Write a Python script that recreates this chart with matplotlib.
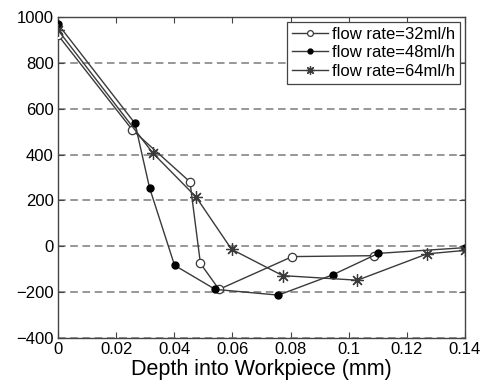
import matplotlib

matplotlib.use("Agg")
import matplotlib.pyplot as plt

plt.rcParams["font.family"] = ["Liberation Sans", "DejaVu Sans"]

# flow rate = 32 ml/h
depth_32 = [0.0, 0.0256, 0.0454, 0.049, 0.0554, 0.0806, 0.1086]
val_32 = [921, 507, 281, -75, -188, -45, -41]

# flow rate = 48 ml/h
depth_48 = [0.0, 0.0265, 0.0315, 0.0401, 0.0541, 0.0758, 0.0946, 0.1102, 0.14]
val_48 = [969, 536, 255, -83, -188, -213, -124, -31, -6]

# flow rate = 64 ml/h
depth_64 = [0.0, 0.0326, 0.0475, 0.0597, 0.0773, 0.103, 0.127, 0.14]
val_64 = [943, 407, 215, -13, -128, -148, -33, -18]

LINE = "#3a3a3a"
ASTERISK = (8, 2, 0)  # matlab-style '*' marker: plus + cross

fig = plt.figure(figsize=(4.86, 3.85), dpi=100)
ax = fig.add_axes([0.1193, 0.1221, 0.8374, 0.8338])

ax.plot(depth_32, val_32, color=LINE, lw=1.0, marker="o", ms=6,
        mfc="white", mec=LINE, mew=0.9, label="flow rate=32ml/h", zorder=3)
ax.plot(depth_48, val_48, color=LINE, lw=1.0, marker="o", ms=5,
        mfc="black", mec="black", label="flow rate=48ml/h", zorder=3)
ax.plot(depth_64, val_64, color=LINE, lw=1.0, marker=ASTERISK, ms=9,
        mfc="none", mec=LINE, mew=0.9, label="flow rate=64ml/h", zorder=3)

ax.set_xlim(0, 0.14)
ax.set_ylim(-400, 1000)
ax.set_xticks([0, 0.02, 0.04, 0.06, 0.08, 0.1, 0.12, 0.14])
ax.set_xticklabels(["0", "0.02", "0.04", "0.06", "0.08", "0.1", "0.12", "0.14"])
ax.set_yticks(range(-400, 1001, 200))

ax.yaxis.grid(True, linestyle=(0, (5, 3)), color="#7a7a7a", lw=1.1)
ax.set_axisbelow(True)

ax.tick_params(direction="in", top=True, right=True, length=4,
               labelsize=12, color="#444444", pad=3)
for s in ax.spines.values():
    s.set_color("#444444")
    s.set_linewidth(1.0)

ax.set_xlabel("Depth into Workpiece (mm)", fontsize=15.5, labelpad=1)

leg = ax.legend(loc="upper right", fontsize=12, handlelength=2.2,
                handletextpad=0.2, borderpad=0.3, labelspacing=0.2,
                markerscale=0.7, borderaxespad=0.3,
                fancybox=False, framealpha=1, edgecolor="#444444")
leg.get_frame().set_linewidth(0.9)

fig.savefig("out.png", dpi=100)
